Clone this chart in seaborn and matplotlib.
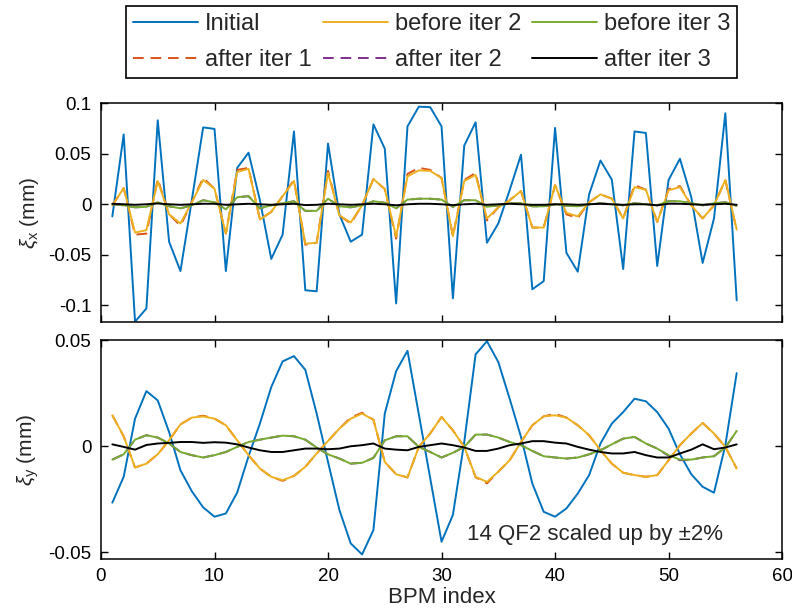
import numpy as np
import pandas as pd
import matplotlib
matplotlib.use("Agg")
import matplotlib.pyplot as plt
import seaborn as sns
from matplotlib.ticker import FixedLocator, FixedFormatter

# ---------------- data ----------------
bpm = list(range(1, 57))

x_initial = [-0.012, 0.069, -0.116, -0.103, 0.083, -0.037, -0.066, 0.004, 0.076, 0.0745,
             -0.066, 0.036, 0.051, 0.004, -0.054, -0.030, 0.072, -0.085, -0.086, 0.060,
             -0.010, -0.037, -0.030, 0.079, 0.055, -0.098, 0.077, 0.0965, 0.096, 0.077,
             -0.093, 0.058, 0.081, -0.038, -0.019, 0.014, 0.049, -0.084, -0.076, 0.0755,
             -0.048, -0.0666, 0.0098, 0.0433, 0.0243, -0.064, 0.072, 0.0705, -0.061, 0.024,
             0.045, 0.007, -0.058, -0.014, 0.090, -0.095]
x_before2 = [-0.001, 0.016, -0.028, -0.0256, 0.023, -0.010, -0.019, 0.002, 0.024, 0.0154,
             -0.029, 0.032, 0.035, -0.015, -0.0075, 0.008, 0.023, -0.039, -0.038, 0.031,
             -0.011, -0.018, -0.001, 0.025, 0.015, -0.032, 0.0276, 0.0335, 0.033, 0.026,
             -0.0315, 0.023, 0.029, -0.014, -0.003, 0.004, 0.013, -0.023, -0.023, 0.019,
             -0.0085, -0.012, 0.002, 0.0098, 0.0056, -0.014, 0.017, 0.0144, -0.0174, 0.0138,
             0.017, -0.001, -0.014, -0.001, 0.024, -0.025]
x_after1 = [-0.001, 0.016, -0.030, -0.029, 0.025, -0.010, -0.021, 0.002, 0.026, 0.0154,
            -0.029, 0.034, 0.036, -0.015, -0.0075, 0.008, 0.024, -0.040, -0.038, 0.033,
            -0.011, -0.019, -0.001, 0.025, 0.015, -0.034, 0.030, 0.036, 0.034, 0.026,
            -0.0315, 0.024, 0.031, -0.016, -0.003, 0.004, 0.013, -0.023, -0.023, 0.019,
            -0.010, -0.0135, 0.002, 0.0098, 0.0056, -0.014, 0.019, 0.0144, -0.0174, 0.015,
            0.018, -0.001, -0.014, -0.001, 0.024, -0.026]
x_before3 = [0.000, -0.001, -0.003, -0.0025, 0.002, -0.002, -0.004, -0.001, 0.004, 0.002,
             -0.005, 0.007, 0.008, -0.004, -0.001, 0.001, 0.003, -0.0065, -0.0065, 0.0055,
             -0.002, -0.003, -0.001, 0.003, 0.0015, -0.004, 0.0046, 0.0055, 0.0055, 0.0046,
             -0.0026, 0.004, 0.004, -0.0025, -0.001, 0.001, 0.001, -0.002, -0.002, 0.000,
             -0.0015, -0.002, 0.000, 0.001, 0.000, -0.001, 0.001, 0.000, -0.001, 0.003,
             0.003, 0.001, -0.001, 0.001, 0.002, -0.0015]
x_after2 = [0.000, -0.001, -0.003, -0.0025, 0.002, -0.002, -0.004, -0.001, 0.004, 0.002,
            -0.005, 0.007, 0.008, -0.004, -0.001, 0.001, 0.003, -0.0065, -0.0065, 0.0055,
            -0.002, -0.003, -0.001, 0.003, 0.0015, -0.004, 0.0046, 0.0055, 0.0055, 0.0046,
            -0.0026, 0.004, 0.004, -0.0025, -0.001, 0.001, 0.001, -0.002, -0.002, 0.000,
            -0.0015, -0.002, 0.000, 0.001, 0.000, -0.001, 0.001, 0.000, -0.001, 0.003,
            0.003, 0.001, -0.001, 0.001, 0.002, -0.0015]
x_after3 = [0.0005, 0.0, -0.0005, 0.0, 0.0008, 0.0, -0.0005, 0.0, 0.0005, 0.0005,
            -0.0005, 0.0, 0.0005, 0.0, -0.0005, 0.0, 0.0005, -0.0008, -0.0005, 0.0005,
            0.0, -0.0005, 0.0, 0.0005, 0.0, -0.001, 0.0, 0.0005, 0.0005, 0.0,
            -0.0008, 0.0, 0.0005, -0.0005, 0.0, 0.0005, 0.0, -0.0005, -0.0005, 0.0,
            0.0, -0.0005, 0.0, 0.0005, 0.0, -0.0005, 0.0, 0.0, -0.001, 0.0005,
            0.0005, 0.0, -0.0005, 0.0, 0.0005, -0.0005]

y_initial = [-0.0266, -0.0144, 0.013, 0.026, 0.0216, 0.0067, -0.0113, -0.0212, -0.0288, -0.0332,
             -0.0317, -0.0218, -0.0047, 0.0107, 0.0279, 0.040, 0.0425, 0.036, 0.0154, -0.0074,
             -0.030, -0.0458, -0.051, -0.0395, 0.0154, 0.0354, 0.045, 0.015, -0.015, -0.045,
             -0.0324, 0.002, 0.0433, 0.0495, 0.0397, 0.0224, 0.0044, -0.0176, -0.0309, -0.0332,
             -0.0293, -0.0223, -0.0136, 0.0013, 0.0107, 0.0161, 0.0224, 0.0212, 0.0161, 0.0083,
             -0.0038, -0.0132, -0.0191, -0.0219, 0.0005, 0.0345]
y_before2 = [0.0146, 0.0047, -0.010, -0.0082, -0.0038, 0.0028, 0.0103, 0.0135, 0.0141, 0.013,
             0.0099, 0.0028, -0.0042, -0.0105, -0.0144, -0.016, -0.014, -0.0097, -0.0034, 0.0025,
             0.0083, 0.013, 0.0154, 0.0125, -0.0074, -0.0132, -0.0147, -0.0003, 0.006, 0.0138,
             0.0075, -0.0003, -0.0144, -0.0168, -0.012, -0.0066, 0.002, 0.0099, 0.0141, 0.0146,
             0.0135, 0.0099, 0.0052, -0.0019, -0.0082, -0.0125, -0.0136, -0.0144, -0.0136, -0.0066,
             0.0005, 0.006, 0.011, 0.006, -0.0003, -0.0105]
y_after1 = [0.0146, 0.0047, -0.010, -0.0082, -0.0038, 0.0028, 0.0103, 0.0135, 0.0144, 0.013,
            0.0099, 0.0028, -0.0042, -0.0105, -0.0144, -0.0163, -0.014, -0.0097, -0.0034, 0.0025,
            0.0083, 0.0135, 0.0158, 0.0125, -0.0074, -0.0132, -0.0147, -0.0003, 0.006, 0.0138,
            0.0075, -0.0003, -0.0146, -0.0175, -0.012, -0.0066, 0.002, 0.0099, 0.0141, 0.0153,
            0.0135, 0.0099, 0.0052, -0.0019, -0.0082, -0.0125, -0.0136, -0.0144, -0.0136, -0.0066,
            0.0005, 0.006, 0.011, 0.006, -0.0003, -0.0105]
y_before3 = [-0.0063, -0.0038, 0.0031, 0.0052, 0.0041, 0.0013, -0.0027, -0.0042, -0.0053, -0.0042,
             -0.0027, -0.0003, 0.002, 0.0031, 0.0041, 0.005, 0.0047, 0.0031, -0.0006, -0.0038,
             -0.0058, -0.0082, -0.0078, -0.0055, 0.0028, 0.0047, 0.0047, -0.0003, -0.0027, -0.0053,
             -0.0031, -0.0003, 0.0055, 0.0055, 0.0041, 0.002, 0.0005, -0.0022, -0.0047, -0.0053,
             -0.0058, -0.0053, -0.0038, -0.0019, 0.0009, 0.0036, 0.0044, 0.0013, -0.0011, -0.0042,
             -0.0063, -0.0063, -0.0053, -0.0047, -0.0006, 0.0072]
y_after2 = [-0.0063, -0.0038, 0.0031, 0.0052, 0.0041, 0.0013, -0.0027, -0.0042, -0.0053, -0.0042,
            -0.0027, -0.0003, 0.002, 0.0031, 0.0041, 0.005, 0.0047, 0.0031, -0.0006, -0.0038,
            -0.0058, -0.0082, -0.0078, -0.0055, 0.0028, 0.0047, 0.0047, -0.0003, -0.0027, -0.0053,
            -0.0031, -0.0003, 0.0055, 0.0055, 0.0041, 0.002, 0.0005, -0.0022, -0.0047, -0.0053,
            -0.0058, -0.0053, -0.0038, -0.0019, 0.0009, 0.0036, 0.0044, 0.0013, -0.0011, -0.0045,
            -0.0066, -0.0063, -0.0053, -0.0047, -0.0006, 0.0072]
y_after3 = [0.0009, -0.0003, -0.0016, 0.0006, 0.0013, 0.0016, 0.002, 0.002, 0.0016, 0.0019,
            0.0017, 0.0009, -0.0006, -0.0019, -0.0027, -0.0027, -0.0019, -0.0011, -0.0011, -0.0014,
            -0.0011, 0.0, 0.0005, 0.0013, -0.0011, -0.0016, -0.0019, -0.0003, 0.0005, 0.0013,
            0.0005, -0.0006, -0.0022, -0.0022, -0.0011, 0.0005, 0.0013, 0.0024, 0.0024, 0.0017,
            0.0013, -0.0003, -0.0016, -0.0027, -0.0034, -0.0034, -0.0027, -0.0042, -0.0053, -0.0053,
            -0.0034, -0.0016, 0.0009, -0.0014, -0.0006, 0.0009]

labels = ["Initial", "after iter 1", "before iter 2", "after iter 2", "before iter 3", "after iter 3"]
colors = ["#0072BD", "#D95319", "#EDB120", "#7E2F8E", "#77AC30", "#000000"]
styles = ["-", (0, (5.5, 3.5)), "-", (0, (5.5, 3.5)), "-", "-"]

x_ticks = [0, 10, 20, 30, 40, 50, 60]
x_ticklabels = ["0", "10", "20", "30", "40", "50", "60"]
top_yticks = [-0.1, -0.05, 0, 0.05, 0.1]
top_yticklabels = ["-0.1", "-0.05", "0", "0.05", "0.1"]
bot_yticks = [-0.05, 0, 0.05]
bot_yticklabels = ["-0.05", "0", "0.05"]
annotation = "14 QF2 scaled up by \u00b12%"

# ---------------- style ----------------
sns.set_style("ticks")
plt.rcParams["font.family"] = ["Liberation Sans", "DejaVu Sans"]
plt.rcParams["axes.unicode_minus"] = False
plt.rcParams["mathtext.fontset"] = "custom"
plt.rcParams["mathtext.rm"] = "Liberation Sans"
plt.rcParams["mathtext.it"] = "Liberation Sans:italic"

fig = plt.figure(figsize=(7.92, 6.08), dpi=100)
ax1 = fig.add_axes([0.1275, 0.471, 0.86, 0.3594])
ax2 = fig.add_axes([0.1275, 0.0811, 0.86, 0.3594])

top_series = [x_initial, x_after1, x_before2, x_after2, x_before3, x_after3]
bot_series = [y_initial, y_after1, y_before2, y_after2, y_before3, y_after3]

df_top = pd.DataFrame({lab: vals for lab, vals in zip(labels, top_series)})
df_top["bpm"] = bpm
df_bot = pd.DataFrame({lab: vals for lab, vals in zip(labels, bot_series)})
df_bot["bpm"] = bpm

for ax, df in [(ax1, df_top), (ax2, df_bot)]:
    for lab, col, ls in zip(labels, colors, styles):
        sns.lineplot(data=df, x="bpm", y=lab, ax=ax, color=col, linestyle=ls,
                     linewidth=1.4, label=lab, legend=False)
    ax.set_xlim(0, 60)
    ax.xaxis.set_major_locator(FixedLocator(x_ticks))
    ax.tick_params(direction="in", length=5, width=1.0, top=True, right=True,
                   labelsize=13.5, pad=7, colors="black")
    for s in ax.spines.values():
        s.set_visible(True)
        s.set_linewidth(1.1)
        s.set_color("black")
    ax.set_xlabel("")

ax1.set_ylim(-0.116, 0.1)
ax1.yaxis.set_major_locator(FixedLocator(top_yticks))
ax1.yaxis.set_major_formatter(FixedFormatter(top_yticklabels))
ax1.set_xticklabels([])
ax1.set_ylabel(r"$\xi_\mathrm{x}$ (mm)", fontsize=15, labelpad=5)

ax2.set_ylim(-0.053, 0.05)
ax2.yaxis.set_major_locator(FixedLocator(bot_yticks))
ax2.yaxis.set_major_formatter(FixedFormatter(bot_yticklabels))
ax2.xaxis.set_major_formatter(FixedFormatter(x_ticklabels))
ax2.set_ylabel(r"$\xi_\mathrm{y}$ (mm)", fontsize=15, labelpad=5)
ax2.set_xlabel("BPM index", fontsize=16, labelpad=1)
ax2.text(32.2, -0.0418, annotation, fontsize=16, ha="left", va="center")

handles = ax1.get_lines()[:6]
leg = fig.legend(handles, labels, ncol=3, loc="upper center",
                 bbox_to_anchor=(0.545, 0.99), fontsize=17, frameon=True,
                 fancybox=False, edgecolor="black", framealpha=1,
                 handlelength=2.75, handletextpad=0.3, columnspacing=0.45,
                 labelspacing=0.6, borderpad=0.3, borderaxespad=0)
leg.get_frame().set_linewidth(1.2)

fig.savefig("out.png", dpi=100)
